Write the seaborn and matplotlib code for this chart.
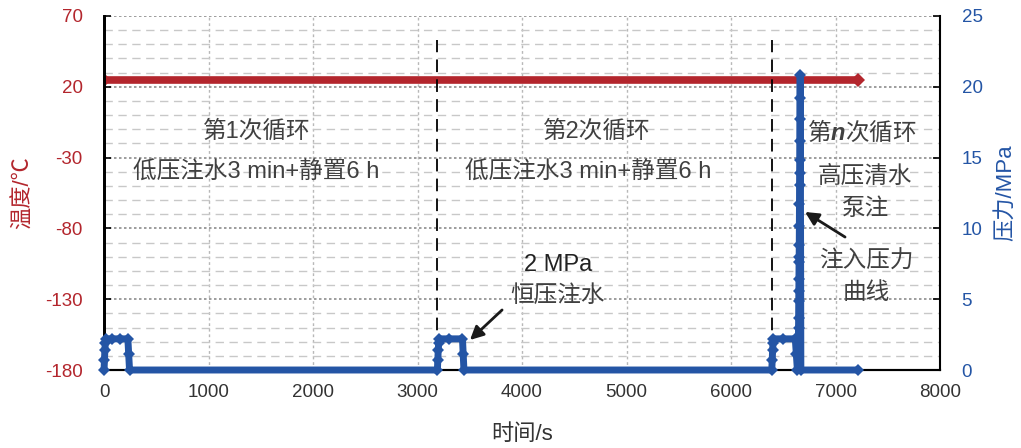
import numpy as np
import pandas as pd
import seaborn as sns
import matplotlib.pyplot as plt

# temperature series (constant room temperature)
time_temp = [0, 7215]
temp = [25, 25]

# pressure series, breakpoints
time_p = [0, 4, 8, 12, 16, 80, 150, 228, 236, 244,
          3190, 3194, 3198, 3202, 3206, 3300, 3430, 3437, 3444,
          6390, 6394, 6398, 6402, 6406, 6500, 6615, 6625, 6635,
          6642, 6645, 6646, 6647, 6648, 6649, 6650, 6651, 6652, 6653,
          6654, 6655, 6656, 6657, 6658, 6659, 6660, 6661, 6662,
          6668, 7215]
pressure = [0, 0.7, 1.4, 1.9, 2.2, 2.2, 2.2, 2.2, 1.1, 0,
            0, 0.7, 1.4, 1.9, 2.2, 2.2, 2.2, 1.1, 0,
            0, 0.7, 1.4, 1.9, 2.2, 2.2, 2.2, 1.1, 0,
            1.2, 2.3, 3.0, 3.7, 4.9, 5.6, 6.4, 7.6, 8.0, 8.8,
            10.2, 11.7, 13.1, 13.9, 14.8, 16.2, 17.7, 19.2, 20.8,
            0, 0]

cycle_starts = [3190, 6390]
x_ticks = list(range(0, 8001, 1000))
temp_ticks = [-180, -130, -80, -30, 20, 70]
p_ticks = [0, 5, 10, 15, 20, 25]

red = '#b3262d'
blue = '#2455a5'
txt = '#404040'

sns.set_theme(style='white')
plt.rcParams['font.family'] = ['Liberation Sans', 'Noto Sans CJK SC']
plt.rcParams['axes.unicode_minus'] = False
plt.rcParams['mathtext.fontset'] = 'custom'
plt.rcParams['mathtext.it'] = 'Liberation Sans:italic:bold'

fig = plt.figure(figsize=(10.21, 4.48), dpi=100)
ax1 = fig.add_axes([0.1019, 0.1741, 0.8188, 0.7902])
ax2 = ax1.twinx()

# grid on the temperature axis
ax1.set_xlim(0, 8000)
ax1.set_ylim(-180, 70)
ax1.set_xticks(x_ticks)
ax1.set_yticks(temp_ticks)
ax1.set_yticks(np.arange(-180, 71, 10), minor=True)
ax1.grid(which='minor', axis='y', ls=(0, (6, 4)), color='#c8c8c8', lw=1)
ax1.grid(which='major', axis='y', ls=(0, (1.5, 1.5)), color='#8c8c8c', lw=1.2)
ax1.grid(which='major', axis='x', ls=(0, (2, 2)), color='#b8b8b8', lw=1)
ax1.set_axisbelow(True)

df_t = pd.DataFrame({'time': time_temp, 'temp': temp})
sns.lineplot(data=df_t, x='time', y='temp', ax=ax1, color=red, lw=5.5,
             marker='D', markersize=7, markeredgewidth=0,
             estimator=None, sort=False)

for t in cycle_starts:
    ax1.axvline(t, ymin=0, ymax=0.932, color='black', ls=(0, (7, 4)),
                lw=1.3, zorder=3)

df_p = pd.DataFrame({'time': time_p, 'pressure': pressure})
sns.lineplot(data=df_p, x='time', y='pressure', ax=ax2, color=blue, lw=5,
             marker='D', markersize=6.5, markeredgewidth=0,
             estimator=None, sort=False, clip_on=False, zorder=4)
ax2.set_ylim(0, 25)
ax2.set_yticks(p_ticks)

# ticks and spines
ax1.tick_params(axis='y', which='major', direction='in', length=5, width=1.2,
                color='black', colors=red, labelsize=13.5, pad=15.5, left=True)
ax1.tick_params(axis='y', which='minor', length=0)
ax1.tick_params(axis='x', direction='in', length=0, colors='#333333',
                labelsize=13.5, pad=10)
ax2.tick_params(axis='y', direction='in', length=5, width=1.2,
                color='black', labelcolor=blue, labelsize=13.5, pad=15.5, right=True)
ax1.yaxis.set_tick_params(color='black')
for ax in (ax1, ax2):
    ax.spines['top'].set_visible(False)
    for s in ('left', 'right', 'bottom'):
        ax.spines[s].set_color('black')
ax1.spines['left'].set_linewidth(2)
ax2.spines['left'].set_linewidth(2)
ax2.spines['right'].set_linewidth(1.5)
ax1.spines['bottom'].set_linewidth(1.5)
ax2.spines['bottom'].set_linewidth(1.5)

ax1.set_xlabel('时间/s', fontsize=16, color='#333333')
ax1.set_ylabel('温度/℃', fontsize=16, color=red)
ax2.set_ylabel('压力/MPa', fontsize=16, color=blue)
ax1.xaxis.set_label_coords(0.5, -0.152)
ax1.yaxis.set_label_coords(-0.084, 0.5)
ax2.yaxis.set_label_coords(1.066, 0.5)

# annotations
fs = 17
ax2.text(1464, 16.8, '第1次循环', ha='center', va='center', fontsize=fs, color=txt)
ax2.text(1455, 13.9, '低压注水3 min+静置6 h', ha='center', va='center', fontsize=fs, color=txt)
ax2.text(4718, 16.8, '第2次循环', ha='center', va='center', fontsize=fs, color=txt)
ax2.text(4632, 13.9, '低压注水3 min+静置6 h', ha='center', va='center', fontsize=fs, color=txt)
ax2.text(7254, 16.8, r'第$\mathit{n}$次循环', ha='center', va='center', fontsize=fs,
         color=txt, family='Noto Sans CJK SC')
ax2.text(7282, 13.6, '高压清水', ha='center', va='center', fontsize=fs, color=txt)
ax2.text(7282, 11.4, '泵注', ha='center', va='center', fontsize=fs, color=txt)
ax2.text(7292, 7.63, '注入压力', ha='center', va='center', fontsize=fs, color=txt)
ax2.text(7292, 5.44, '曲线', ha='center', va='center', fontsize=fs, color=txt)
ax2.text(4344, 7.42, '2 MPa', ha='center', va='center', fontsize=fs, color='#222222')
ax2.text(4344, 5.23, '恒压注水', ha='center', va='center', fontsize=fs, color=txt)

arrow = dict(arrowstyle='-|>', color='#1a1a1a', lw=2, mutation_scale=20,
             shrinkA=0, shrinkB=0)
ax2.annotate('', xy=(3502, 2.12), xytext=(3809, 4.24), arrowprops=arrow)
ax2.annotate('', xy=(6708, 11.16), xytext=(7091, 9.39), arrowprops=arrow)

fig.savefig('out.png', dpi=100)
